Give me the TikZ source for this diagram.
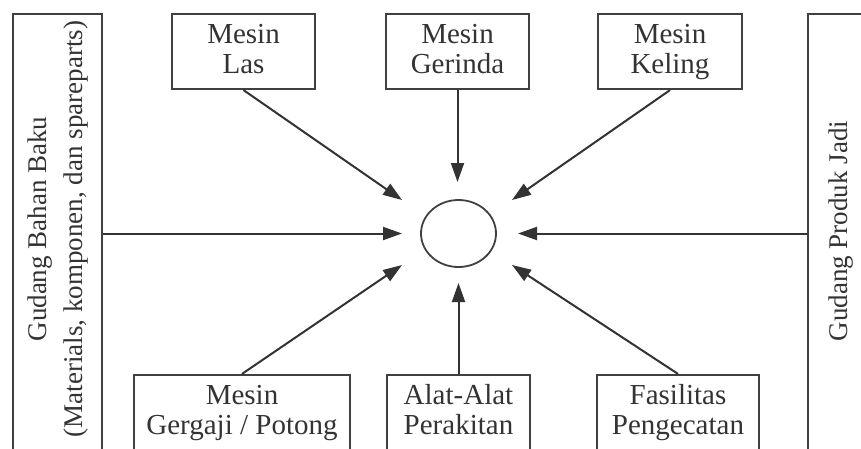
\documentclass[tikz,border=0pt]{standalone}
\usepackage{fontspec}
\setmainfont{Liberation Serif}
\usetikzlibrary{shapes.geometric,arrows.meta}

% fixed line box so every two-line label sits at the same height
\newcommand\lnstrut{\rule[-7pt]{0pt}{27pt}}

\begin{document}
\begin{tikzpicture}[x=1pt,y=-1pt,
  ink/.style={draw=black!75, line width=2.2pt},
  unit/.style={ink, rectangle, minimum height=75pt, inner sep=0pt,
    align=center, text=black!80, font=\fontsize{29}{30}\selectfont},
  store/.style={ink, rectangle, inner sep=0pt},
  side/.style={text=black!80, rotate=90, align=center, inner sep=0pt,
    font=\fontsize{27}{36}\selectfont},
  flow/.style={draw=black!80, line width=2pt,
    -{Triangle[length=19pt,width=13pt]}},
]
\useasboundingbox (0,0) rectangle (861,448);
\clip (0,0) rectangle (861,448);

% warehouses on both sides
\node[store, minimum width=89pt, minimum height=456pt] (raw) at (57.5,242) {};
\node[side] (rawlbl) at (58.5,229)
  {Gudang Bahan Baku\\(Materials, komponen, dan spareparts)};
\node[store, minimum width=82pt, minimum height=456pt] (fin) at (849,242) {};
\node[side] (finlbl) at (841,231) {Gudang Produk Jadi};

% central work station
\node[ink, line width=1.8pt, ellipse, minimum width=75pt, minimum height=67pt,
  inner sep=0pt] (hub) at (458.5,233.5) {};

% equipment above
\node[unit, minimum width=143pt] (las) at (243.5,51.5) {\lnstrut Mesin\\\lnstrut Las};
\node[unit, minimum width=143pt] (gerinda) at (457.5,51.5) {\lnstrut Mesin\\\lnstrut Gerinda};
\node[unit, minimum width=144pt] (keling) at (670,51.5) {\lnstrut Mesin\\\lnstrut Keling};

% equipment below
\node[unit, minimum width=216pt] (gergaji) at (242,412.5) {\lnstrut Mesin\\\lnstrut Gergaji / Potong};
\node[unit, minimum width=143pt] (alat) at (458.5,412.5) {\lnstrut Alat-Alat\\\lnstrut Perakitan};
\node[unit, minimum width=162pt] (cat) at (678,412.5) {\lnstrut Fasilitas\\\lnstrut Pengecatan};

% arrow tips around the station
\coordinate (tUL) at (402,200);
\coordinate (tT)  at (458.5,182);
\coordinate (tUR) at (512,200);
\coordinate (tL)  at (402,233.5);
\coordinate (tR)  at (518,233.5);
\coordinate (tLL) at (402,265);
\coordinate (tB)  at (458.5,283);
\coordinate (tLR) at (512,265);

\draw[flow] (las.south) -- (tUL);
\draw[flow] (gerinda.south) -- (gerinda.south |- tT);
\draw[flow] (keling.south) -- (tUR);
\draw[flow] (raw.east |- tL) -- (tL);
\draw[flow] (fin.west |- tR) -- (tR);
\draw[flow] (gergaji.north) -- (tLL);
\draw[flow] (alat.north) -- (tB);
\draw[flow] (cat.north) -- (tLR);
\end{tikzpicture}
\end{document}
